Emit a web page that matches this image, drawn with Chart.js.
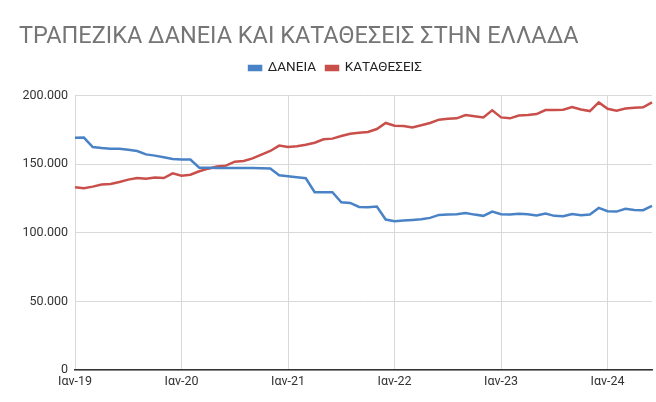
<!DOCTYPE html>
<html>
<head>
<meta charset="utf-8">
<script src="https://cdn.jsdelivr.net/npm/chart.js@4"></script>
<style>
  body { margin: 0; background: #fff; }
  canvas { display: block; }
</style>
</head>
<body>
<canvas id="myChart" width="656" height="402"></canvas>
<script>
const months = ['Ιαν', 'Φεβ', 'Μαρ', 'Απρ', 'Μαΐ', 'Ιουν', 'Ιουλ', 'Αυγ', 'Σεπ', 'Οκτ', 'Νοε', 'Δεκ'];
const years = ['19', '20', '21', '22', '23', '24'];
const monthsInLastYear = 6;

// ΔΑΝΕΙΑ (εκ. €)
const loans = [
  169400, 169500, 162600, 161900, 161400, 161400, 160600, 159700, 157200, 156300, 155100, 153800,
  153400, 153400, 147500, 147500, 147300, 147300, 147200, 147200, 147200, 147100, 147000, 142000,
  141200, 140500, 139800, 129600, 129600, 129600, 122300, 121800, 118900, 118700, 119200, 109700,
  108500, 109000, 109400, 109900, 110900, 113100, 113300, 113600, 114500, 113300, 112400, 115500,
  113600, 113300, 114000, 113600, 112600, 114000, 112400, 112100, 113800, 112800, 113300, 118200,
  115800, 115500, 117500, 116700, 116500, 119600
];

// ΚΑΤΑΘΕΣΕΙΣ (εκ. €)
const deposits = [
  133200, 132500, 133700, 135200, 135700, 137100, 138800, 140000, 139500, 140300, 140000, 143400,
  141700, 142400, 144900, 146800, 148300, 149000, 151900, 152400, 154300, 157000, 159700, 163600,
  162600, 163100, 164300, 165700, 168200, 168700, 170600, 172300, 173000, 173500, 175700, 180100,
  178100, 177900, 176900, 178400, 180100, 182500, 183200, 183500, 185900, 185100, 184200, 189300,
  184200, 183500, 185600, 185900, 186600, 189500, 189500, 189800, 191700, 190000, 188800, 195100,
  190500, 189000, 190700, 191200, 191500, 195100
];

const labels = [];
years.forEach((y, yi) => {
  const n = yi === years.length - 1 ? monthsInLastYear : 12;
  for (let m = 0; m < n; m++) labels.push(months[m] + '-' + y);
});

const fmt = v => String(v).replace(/\B(?=(\d{3})+(?!\d))/g, '.');
const gridGray = '#d9d9d9';

// extra space under the legend
const legendGap = {
  id: 'legendGap',
  beforeInit(chart) {
    const fit = chart.legend.fit;
    chart.legend.fit = function () {
      fit.call(this);
      this.height += 11;
    };
  }
};

new Chart(document.getElementById('myChart'), {
  type: 'line',
  data: {
    labels: labels,
    datasets: [
      {
        label: 'ΔΑΝΕΙΑ',
        data: loans,
        borderColor: '#4a82c6',
        backgroundColor: '#4a82c6',
        borderWidth: 2.5,
        pointRadius: 0,
        tension: 0
      },
      {
        label: 'ΚΑΤΑΘΕΣΕΙΣ',
        data: deposits,
        borderColor: '#c94f4b',
        backgroundColor: '#c94f4b',
        borderWidth: 2.5,
        pointRadius: 0,
        tension: 0
      }
    ]
  },
  plugins: [legendGap],
  options: {
    responsive: false,
    animation: false,
    devicePixelRatio: 1,
    layout: { padding: { left: 19, right: 4, top: 13, bottom: 0 } },
    plugins: {
      title: {
        display: true,
        text: 'ΤΡΑΠΕΖΙΚΑ ΔΑΝΕΙΑ ΚΑΙ ΚΑΤΑΘΕΣΕΙΣ ΣΤΗΝ ΕΛΛΑΔΑ',
        align: 'start',
        color: '#757575',
        font: { family: 'Roboto', size: 23.5, weight: 'normal' },
        padding: { top: 10, bottom: 0 }
      },
      legend: {
        labels: {
          boxWidth: 12,
          boxHeight: 4,
          color: '#222',
          font: { family: 'Roboto', size: 13.5 },
          padding: 10
        }
      },
      tooltip: { enabled: false }
    },
    scales: {
      x: {
        grid: {
          color: c => (c.index % 12 === 0 ? gridGray : 'transparent'),
          drawTicks: false
        },
        border: { display: true, color: '#333', width: 1.5 },
        ticks: {
          autoSkip: false,
          maxRotation: 0,
          padding: 4,
          color: '#333',
          font: { family: 'Roboto', size: 12.5 },
          callback: (v, i) => (i % 12 === 0 ? labels[i] : '')
        },
        afterFit: s => { s.height = 32; }
      },
      y: {
        min: 0,
        max: 200000,
        grid: { color: gridGray, drawTicks: false },
        border: { display: false },
        ticks: {
          stepSize: 50000,
          padding: 7,
          color: '#333',
          font: { family: 'Roboto', size: 12.5 },
          callback: v => fmt(v)
        },
        afterFit: s => { s.width = 56; }
      }
    }
  }
});
</script>
</body>
</html>
